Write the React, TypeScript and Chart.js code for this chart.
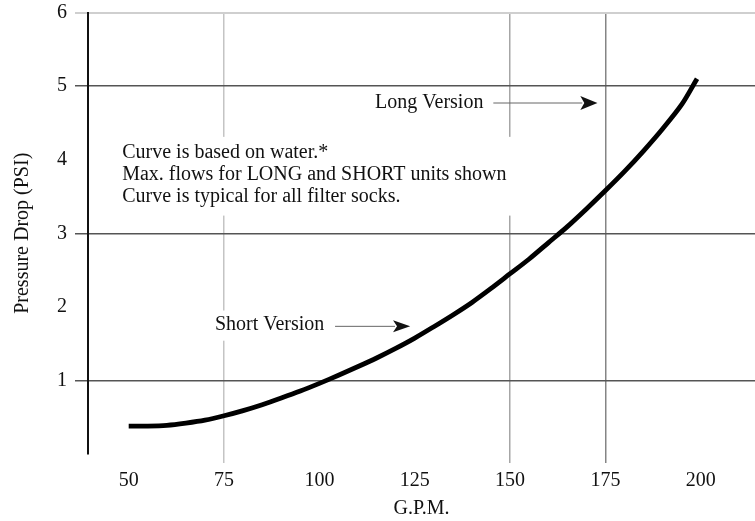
import { useEffect, useRef } from "react";
import { Chart, registerables } from "chart.js";

Chart.register(...registerables);

// ---- data ----
const gpm = [50, 55, 60, 65, 70, 75, 80, 85, 90, 95, 100, 105, 110, 115, 120, 125, 130, 135, 140, 145, 150, 155, 160, 165, 170, 175, 180, 185, 190, 195, 199];
const psi = [0.38, 0.38, 0.39, 0.42, 0.46, 0.52, 0.59, 0.67, 0.76, 0.855, 0.96, 1.07, 1.185, 1.305, 1.435, 1.575, 1.73, 1.89, 2.06, 2.25, 2.45, 2.65, 2.87, 3.09, 3.33, 3.58, 3.84, 4.12, 4.42, 4.75, 5.1];
const xTicks = [50, 75, 100, 125, 150, 175, 200];
const yTicks = [0, 1, 2, 3, 4, 5, 6];
const noteLines = [
  "Curve is based on water.*",
  "Max. flows for LONG and SHORT units shown",
  "Curve is typical for all filter socks.",
];
const longLabel = "Long Version";
const shortLabel = "Short Version";
const xTitle = "G.P.M.";
const yTitle = "Pressure Drop (PSI)";

const FONT = '"Liberation Serif", "Times New Roman", serif';
const TEXT = "#111";

const xGridColor = (v: number) =>
  v === 75 ? "#c4c4c4" : v === 150 ? "#a6a6a6" : v === 175 ? "#858585" : "rgba(0,0,0,0)";
const yGridColor = (v: number) =>
  v === 6 ? "#cfcfcf" : v === 1 || v === 3 || v === 5 ? "#555" : "rgba(0,0,0,0)";

function arrow(ctx: CanvasRenderingContext2D, x0: number, x1: number, tip: number, y: number, half: number) {
  ctx.strokeStyle = "#666";
  ctx.lineWidth = 1;
  ctx.beginPath();
  ctx.moveTo(x0, y);
  ctx.lineTo(x1 + 2, y);
  ctx.stroke();
  ctx.fillStyle = "#111";
  ctx.beginPath();
  ctx.moveTo(x1, y - half);
  ctx.lineTo(tip, y);
  ctx.lineTo(x1, y + half);
  ctx.lineTo(x1 + 4, y);
  ctx.closePath();
  ctx.fill();
}

const notesPlugin = {
  id: "notes",
  beforeDatasetsDraw(chart: any) {
    const { ctx, scales } = chart;
    const px = (v: number) => scales.x.getPixelForValue(v);
    const py = (v: number) => scales.y.getPixelForValue(v);
    ctx.save();
    // note box background
    ctx.fillStyle = "#fff";
    ctx.fillRect(px(42.5), py(4.31), px(152.6) - px(42.5), py(3.24) - py(4.31));
    // short label background
    ctx.fillRect(px(70), py(1.95), px(104) - px(70), py(1.54) - py(1.95));

    ctx.font = `20px ${FONT}`;
    ctx.fillStyle = TEXT;
    ctx.textBaseline = "middle";
    ctx.textAlign = "left";
    noteLines.forEach((t, i) => ctx.fillText(t, px(48.3), py(4.09 - i * 0.298)));

    ctx.fillStyle = TEXT;
    ctx.fillText(longLabel, px(114.6), py(4.77));
    arrow(ctx, px(145.6), px(168.4), px(172.9), py(4.77), 7);

    ctx.fillStyle = TEXT;
    ctx.fillText(shortLabel, px(72.6), py(1.75));
    arrow(ctx, px(104.1), px(119.3), px(123.8), py(1.735), 6);
    ctx.restore();
  },
};

export default function App() {
  const ref = useRef<HTMLCanvasElement>(null);
  useEffect(() => {
    if (!ref.current) return;
    const chart = new Chart(ref.current, {
      type: "line",
      data: {
        datasets: [
          {
            data: gpm.map((g, i) => ({ x: g, y: psi[i] })),
            borderColor: "#000",
            borderWidth: 4.8,
            pointRadius: 0,
            tension: 0.3,
            fill: false,
          },
        ],
      },
      options: {
        animation: false,
        responsive: false,
        maintainAspectRatio: false,
        layout: { padding: { top: 12.5, right: 0, left: 0, bottom: 0 } },
        plugins: { legend: { display: false }, tooltip: { enabled: false } },
        scales: {
          x: {
            type: "linear",
            min: 39.33,
            max: 214.2,
            afterBuildTicks: (s: any) => {
              s.ticks = xTicks.map((v) => ({ value: v }));
            },
            afterFit: (s: any) => {
              s.height = 67;
              s.paddingLeft = 0;
              s.paddingRight = 0;
            },
            border: { display: false },
            grid: {
              color: (c: any) => xGridColor(c.tick?.value),
              lineWidth: 1.5,
              tickLength: 9,
              drawTicks: true,
            },
            ticks: {
              autoSkip: false,
              maxRotation: 0,
              padding: 6,
              color: TEXT,
              font: { family: FONT, size: 20 },
              callback: (v: any) => String(v),
            },
            title: {
              display: true,
              text: xTitle,
              color: TEXT,
              font: { family: FONT, size: 20 },
              padding: { top: 0, bottom: 0 },
            },
          },
          y: {
            type: "linear",
            min: 0,
            max: 6,
            afterBuildTicks: (s: any) => {
              s.ticks = yTicks.map((v) => ({ value: v }));
            },
            afterFit: (s: any) => {
              s.width = 88;
              s.paddingTop = 0;
              s.paddingBottom = 0;
            },
            border: { display: true, color: "#111", width: 2 },
            grid: {
              color: (c: any) => yGridColor(c.tick?.value),
              lineWidth: (c: any) => (c.tick?.value === 6 ? 2 : 1.5),
              tickLength: 13,
              drawTicks: true,
            },
            ticks: {
              padding: 8,
              color: TEXT,
              font: { family: FONT, size: 20 },
              callback: (v: any) => (v === 0 ? "" : String(v)),
            },
            title: {
              display: true,
              text: yTitle,
              color: TEXT,
              font: { family: FONT, size: 20 },
              padding: { top: 11, bottom: 0 },
            },
          },
        },
      },
      plugins: [notesPlugin],
    } as any);
    return () => chart.destroy();
  }, []);
  return (
    <div style={{ position: "absolute", left: 0, top: 0, width: 755, height: 521, background: "#fff" }}>
      <canvas ref={ref} width={755} height={521} style={{ display: "block" }} />
    </div>
  );
}
